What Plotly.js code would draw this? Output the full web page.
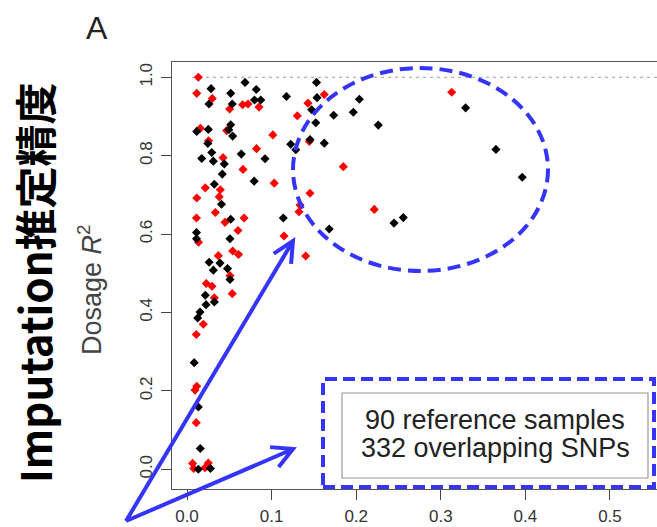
<!DOCTYPE html>
<html>
<head>
<meta charset="utf-8">
<script src="https://cdn.plot.ly/plotly-3.0.1.min.js"></script>
<style>html,body{margin:0;padding:0;background:#fff;overflow:hidden;}</style>
</head>
<body>
<div id="chart" style="width:657px;height:527px;"></div>
<script>
// ---- data ----
const blackX = [0.0686,0.1531,0.0284,0.0819,0.0517,0.1176,0.1537,0.0798,0.0872,0.0260,
  0.0535,0.2037,0.1474,0.3294,0.1966,0.1734,0.1522,0.0517,0.0494,0.0115,
  0.0252,0.2261,0.0540,0.1454,0.1623,0.1226,0.0246,0.1286,0.3652,0.0293,
  0.0642,0.0174,0.0922,0.0311,0.0441,0.0417,0.3963,0.0794,0.0323,0.0408,
  0.1138,0.2557,0.2447,0.0517,0.1681,0.0112,0.0112,0.0508,0.0262,0.0390,
  0.0311,0.0479,0.0508,0.0216,0.0225,0.0323,0.0154,0.0126,0.0085,0.0134,
  0.0157,0.0134,0.0277];
const blackY = [0.987,0.987,0.971,0.969,0.959,0.951,0.948,0.942,0.942,0.932,
  0.932,0.944,0.917,0.922,0.911,0.903,0.884,0.879,0.866,0.862,
  0.867,0.878,0.850,0.841,0.832,0.829,0.831,0.815,0.816,0.808,
  0.804,0.793,0.792,0.786,0.779,0.753,0.745,0.735,0.727,0.676,
  0.641,0.642,0.628,0.638,0.613,0.604,0.588,0.588,0.528,0.526,
  0.508,0.512,0.484,0.444,0.420,0.427,0.401,0.386,0.272,0.159,
  0.053,0.000,0.002];
const redX = [0.0134,0.0115,0.0299,0.1623,0.3129,0.0658,0.0721,0.1430,0.0851,0.0504,
  0.1304,0.0158,0.0469,0.1015,0.0255,0.1446,0.0822,0.0426,0.0662,0.1848,
  0.1031,0.0216,0.0394,0.0381,0.0116,0.1454,0.1336,0.1324,0.2214,0.0335,
  0.0112,0.0675,0.0449,0.0603,0.1147,0.0136,0.0540,0.0609,0.0370,0.1403,
  0.0508,0.0228,0.0296,0.0323,0.0535,0.0193,0.0110,0.0115,0.0095,0.0110,
  0.0067,0.0252,0.0079,0.0213];
const redY = [1.000,0.959,0.946,0.956,0.962,0.930,0.932,0.934,0.924,0.919,
  0.902,0.870,0.864,0.853,0.838,0.836,0.818,0.795,0.765,0.772,
  0.730,0.718,0.713,0.695,0.692,0.704,0.674,0.657,0.663,0.655,
  0.641,0.641,0.630,0.609,0.595,0.579,0.557,0.548,0.545,0.544,
  0.494,0.474,0.467,0.4375,0.448,0.370,0.344,0.212,0.202,0.119,
  0.015,0.016,0.002,0.004];
const xTicks = [0, 0.1, 0.2, 0.3, 0.4, 0.5];
const yTicks = [0, 0.2, 0.4, 0.6, 0.8, 1.0];
const titleMain = 'Imputation推定精度';
const yTitle = 'Dosage <i>R</i><sup>2</sup>';
const panelLabel = 'A';
const noteLines = ['90 reference samples', '332 overlapping SNPs'];

// ---- layout helpers (pixel -> paper) ----
const L = 172, T = 62, W = 485, H = 427;
const px = x => (x - L) / W;
const py = y => (T + H - y) / H;
const BLUE = 'rgb(52,52,250)';

function arrowPath(x0, y0, x1, y1, len, angDeg) {
  const dx = x0 - x1, dy = y0 - y1, d = Math.hypot(dx, dy);
  const ux = dx / d, uy = dy / d, a = angDeg * Math.PI / 180;
  const r = (c, s) => [x1 + len * (ux * c - uy * s), y1 + len * (ux * s + uy * c)];
  const p1 = r(Math.cos(a), Math.sin(a)), p2 = r(Math.cos(-a), Math.sin(-a));
  const P = (p) => px(p[0]).toFixed(5) + ',' + py(p[1]).toFixed(5);
  return 'M' + P([x0, y0]) + ' L' + P([x1, y1]) + ' M' + P(p1) + ' L' + P([x1, y1]) + ' L' + P(p2);
}

const traces = [
  {x: redX, y: redY, type: 'scatter', mode: 'markers', name: 'red',
   marker: {symbol: 'diamond', size: 7, color: '#ff0000', line: {width: 0}}},
  {x: blackX, y: blackY, type: 'scatter', mode: 'markers', name: 'black',
   marker: {symbol: 'diamond', size: 7, color: '#000000', line: {width: 0}}}
];

const tickFont = {family: 'Liberation Sans, Arial, sans-serif', size: 17, color: '#333'};
const layout = {
  width: 657, height: 527,
  margin: {l: L, r: 657 - L - W, t: T, b: 527 - T - H, pad: 0},
  paper_bgcolor: '#fff', plot_bgcolor: '#fff',
  showlegend: false,
  xaxis: {range: [-0.01773, 0.5556], tickvals: xTicks, tickformat: '.1f',
    ticks: 'outside', ticklen: 10, tickcolor: '#444', tickwidth: 1,
    showline: true, linecolor: '#555', linewidth: 1, mirror: true,
    showgrid: false, zeroline: false, tickfont: tickFont, ticklabelstandoff: 2},
  yaxis: {range: [-0.0503, 1.039], tickvals: yTicks, tickformat: '.1f', tickangle: -90,
    ticks: 'outside', ticklen: 10, tickcolor: '#444', tickwidth: 1,
    showline: true, linecolor: '#555', linewidth: 1,
    showgrid: false, zeroline: false, tickfont: tickFont, ticklabelstandoff: 2},
  shapes: [
    {type: 'line', xref: 'x', yref: 'y', x0: 0.006, x1: 0.5556, y0: 1, y1: 1, layer: 'below',
     line: {color: '#999', width: 1, dash: '3px,4px'}},
    {type: 'circle', xref: 'paper', yref: 'paper', x0: px(293), x1: px(548), y0: py(271), y1: py(68),
     line: {color: BLUE, width: 4, dash: '13px,7px'}},
    {type: 'rect', xref: 'paper', yref: 'paper', x0: px(342), x1: px(648), y0: py(478), y1: py(393),
     fillcolor: '#fff', line: {color: '#999', width: 1.2}},
    {type: 'rect', xref: 'paper', yref: 'paper', x0: px(323), x1: px(654), y0: py(487), y1: py(379),
     line: {color: BLUE, width: 4, dash: '12px,6px'}},
    {type: 'path', xref: 'paper', yref: 'paper', path: arrowPath(126, 521, 293, 241, 23, 26),
     line: {color: BLUE, width: 4}},
    {type: 'path', xref: 'paper', yref: 'paper', path: arrowPath(126, 521, 293, 449, 23, 28),
     line: {color: BLUE, width: 4}}
  ],
  annotations: [
    {text: panelLabel, xref: 'paper', yref: 'paper', x: px(97), y: py(28), showarrow: false,
     xanchor: 'center', yanchor: 'middle', font: {family: 'Liberation Sans, Arial, sans-serif', size: 32, color: '#222'}},
    {text: yTitle, xref: 'paper', yref: 'paper', x: px(90), y: py(290), showarrow: false, textangle: -90,
     xanchor: 'center', yanchor: 'middle', font: {family: 'Liberation Sans, Arial, sans-serif', size: 27, color: '#444'}},
    {text: titleMain, xref: 'paper', yref: 'paper', x: px(33), y: py(283), showarrow: false, textangle: -90,
     xanchor: 'center', yanchor: 'middle', font: {family: 'Noto Sans CJK JP, sans-serif', size: 42, color: '#000', weight: 'bold'}},
    {text: noteLines[0], xref: 'paper', yref: 'paper', x: px(495), y: py(420), showarrow: false,
     xanchor: 'center', yanchor: 'middle', font: {family: 'Liberation Sans, Arial, sans-serif', size: 27, color: '#222'}},
    {text: noteLines[1], xref: 'paper', yref: 'paper', x: px(495), y: py(448), showarrow: false,
     xanchor: 'center', yanchor: 'middle', font: {family: 'Liberation Sans, Arial, sans-serif', size: 27, color: '#222'}}
  ]
};

Plotly.newPlot('chart', traces, layout, {displayModeBar: false, staticPlot: true});
</script>
</body>
</html>
